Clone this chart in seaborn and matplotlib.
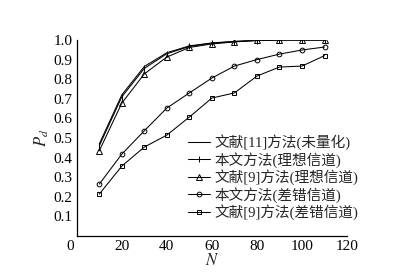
import matplotlib
matplotlib.use('Agg')
import matplotlib.pyplot as plt
import matplotlib.transforms as mtransforms
import seaborn as sns
import pandas as pd

# data
N = [10, 20, 30, 40, 50, 60, 70, 80, 90, 100, 110]
ref11 = [0.47, 0.72, 0.865, 0.935, 0.97, 0.985, 0.993, 0.998, 1.0, 1.0, 1.0]
ours_ideal = [0.46, 0.71, 0.855, 0.93, 0.967, 0.983, 0.992, 0.997, 1.0, 1.0, 1.0]
ref9_ideal = [0.435, 0.678, 0.827, 0.913, 0.962, 0.98, 0.99, 0.998, 1.0, 1.0, 1.0]
ours_err = [0.265, 0.418, 0.537, 0.653, 0.73, 0.806, 0.867, 0.90, 0.928, 0.949, 0.964]
ref9_err = [0.214, 0.357, 0.454, 0.515, 0.607, 0.704, 0.73, 0.816, 0.862, 0.867, 0.92]

labels = ['文献[11]方法(未量化)', '本文方法(理想信道)', '文献[9]方法(理想信道)',
          '本文方法(差错信道)', '文献[9]方法(差错信道)']
series = [ref11, ours_ideal, ref9_ideal, ours_err, ref9_err]
markers = ['', '|', '^', 'o', 's']
msizes = [0, 4.5, 3.8, 3.4, 3.0]

sns.set_style('white')
plt.rcParams['font.family'] = ['Liberation Serif', 'Noto Sans CJK SC']
plt.rcParams['mathtext.fontset'] = 'stix'

df = pd.concat([pd.DataFrame({'N': N, 'Pd': v, 'method': lab}) for lab, v in zip(labels, series)])

fig = plt.figure(figsize=(4.04, 2.72), dpi=100)
ax = fig.add_axes([0.19, 0.132, 0.669, 0.721])

for lab, m, ms in zip(labels, markers, msizes):
    sub = df[df['method'] == lab]
    sns.lineplot(data=sub, x='N', y='Pd', ax=ax, color='black', lw=0.75,
                 marker=m if m else None, markersize=ms,
                 markerfacecolor='none', markeredgecolor='black', markeredgewidth=0.7,
                 label=lab)

ax.set_xlim(0, 120)
ax.set_ylim(0, 1.0)
ax.set_xticks([0, 20, 40, 60, 80, 100, 120])
ax.set_yticks([0.1, 0.2, 0.3, 0.4, 0.5, 0.6, 0.7, 0.8, 0.9, 1.0])
ax.set_yticklabels(['0.1', '0.2', '0.3', '0.4', '0.5', '0.6', '0.7', '0.8', '0.9', '1.0'])
ax.tick_params(direction='in', length=3, width=0.8, labelsize=11, colors='black', pad=3)
for s in ['top', 'right']:
    ax.spines[s].set_visible(False)
for s in ['left', 'bottom']:
    ax.spines[s].set_color('black')
    ax.spines[s].set_linewidth(0.9)

# the origin label sits a bit left of the axis corner
zero_lab = ax.get_xticklabels()[0]
zero_lab.set_transform(zero_lab.get_transform() +
                       mtransforms.ScaledTranslation(-0.07, 0, fig.dpi_scale_trans))

ax.set_xlabel('$N$', fontsize=12, labelpad=0)
ax.set_ylabel('$P_d$', fontsize=12, labelpad=2)

leg = ax.legend(loc='center left', bbox_to_anchor=(0.385, 0.3), frameon=False,
                fontsize=10.5, handlelength=1.5, handletextpad=0.3, labelspacing=0.12,
                borderpad=0)

fig.savefig('out.png', dpi=100)
